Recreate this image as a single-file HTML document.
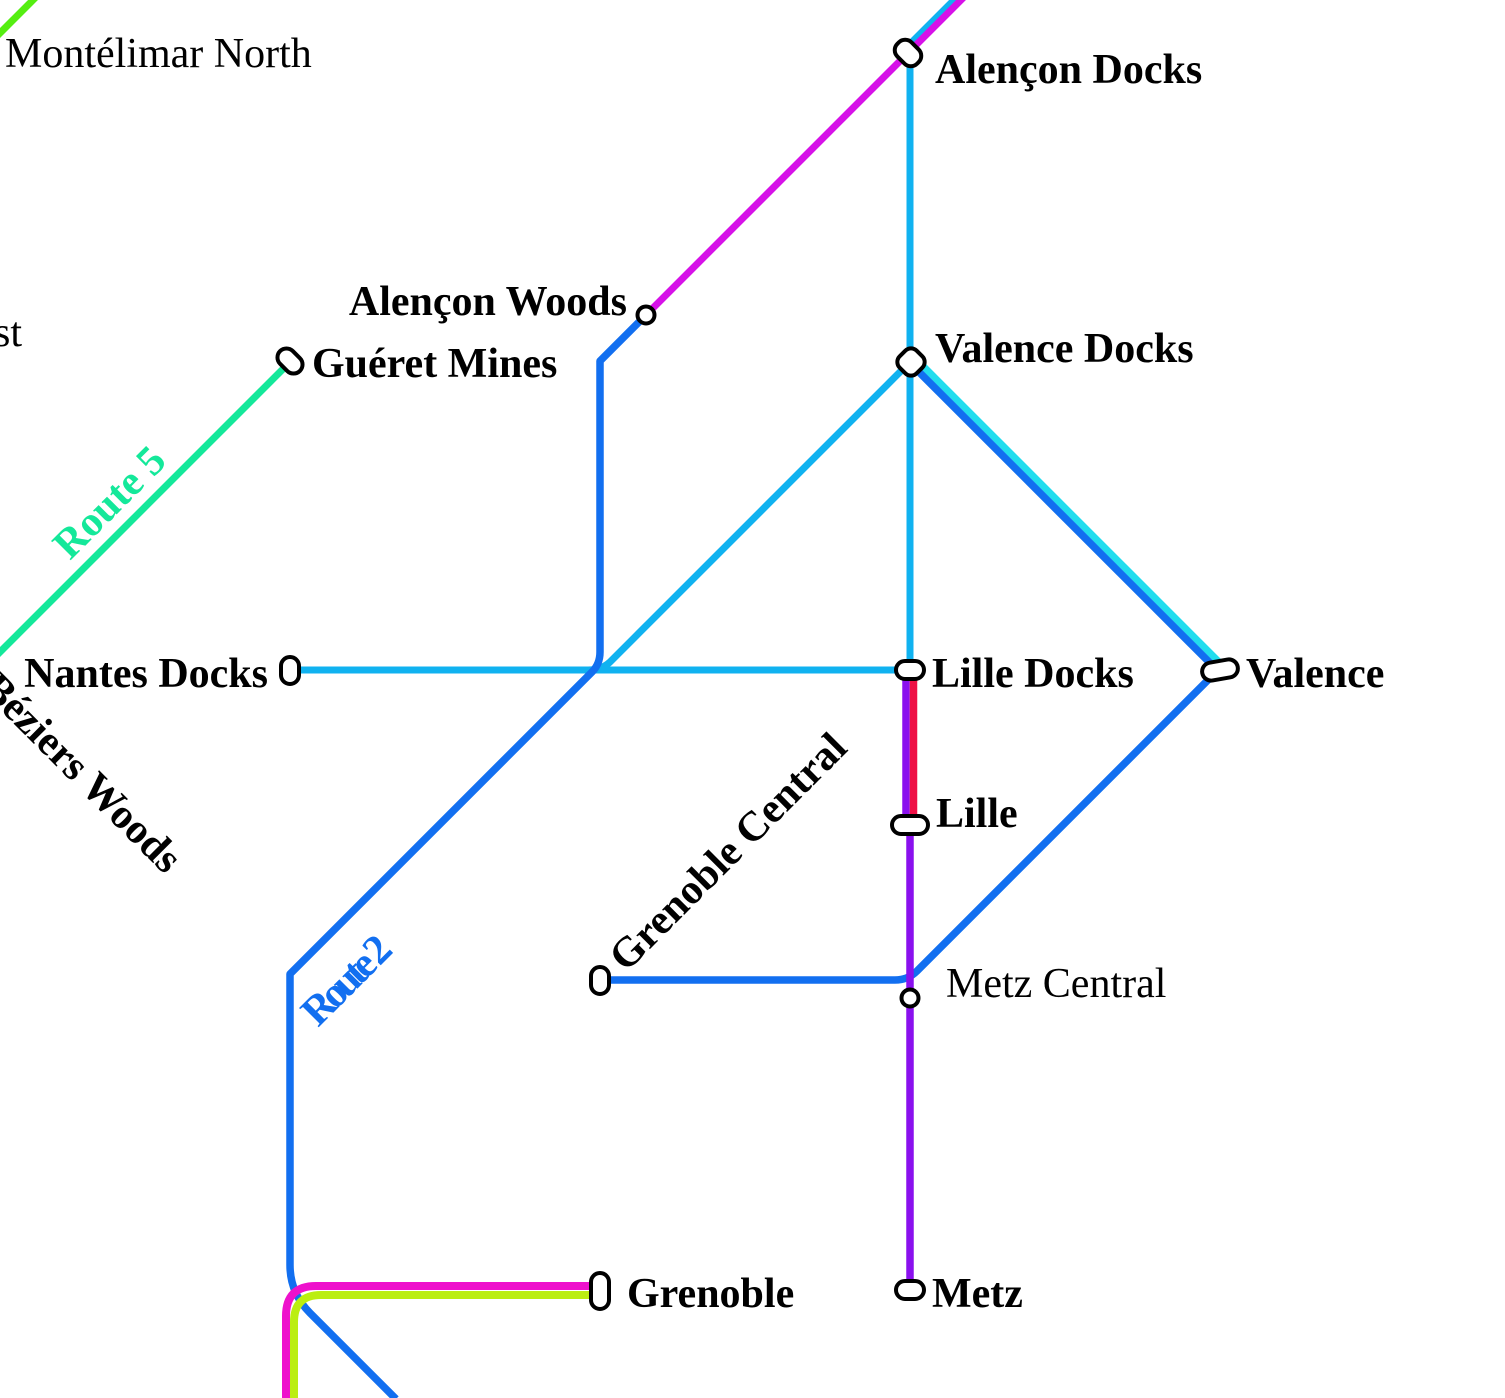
<!DOCTYPE html>
<html><head><meta charset="utf-8"><style>
html,body{margin:0;padding:0;background:#fff;}
svg{display:block;}
text{font-family:"Liberation Serif",serif;font-size:42px;fill:#000;}
.b{font-weight:bold;}
</style></head><body>
<svg width="1505" height="1398" viewBox="0 0 1505 1398" xmlns="http://www.w3.org/2000/svg">
<g fill="none" stroke-linejoin="round">
<!-- top-left green -->
<path d="M-5,38 L38,-5" stroke="#55ee11" stroke-width="7"/>
<!-- route 5 -->
<path d="M290,362 L-10,662" stroke="#14e89a" stroke-width="7"/>
<!-- light blue top segment & vertical -->
<path d="M955,-1 L910,44 V670" stroke="#10b2f0" stroke-width="7"/>
<!-- magenta top -->
<path d="M646,315 L976,-15" stroke="#d611e8" stroke-width="7"/>
<!-- light blue horizontal & diagonal -->
<path d="M290,670 H910" stroke="#10b2f0" stroke-width="7"/>
<path d="M910,362 L612,660 Q603,670 588,670" stroke="#10b2f0" stroke-width="7"/>
<!-- route 2 -->
<path d="M646,315 L600,361 V652 Q600,664 592,672 L290,974 V1265 Q290,1293 310,1313 L396,1399" stroke="#126ff0" stroke-width="7.5"/>
<!-- blue Grenoble Central - Valence -->
<path d="M600,980 H895 Q908,980 917,971 L1214,674" stroke="#126ff0" stroke-width="7.5"/>
<!-- cyan and blue Valence Docks - Valence -->
<path d="M918,361 L1220,663" stroke="#22ddee" stroke-width="7"/>
<path d="M912,365 L1214,667" stroke="#126ff0" stroke-width="7.5"/>
<!-- purple & red -->
<path d="M906,672 V822 L910,828 V1290" stroke="#8a10ee" stroke-width="7.5"/>
<path d="M913.5,672 V825" stroke="#ee1045" stroke-width="7.5"/>
<!-- bottom magenta & yellow-green -->
<path d="M286,1400 V1316 Q286,1286 316,1286 H600" stroke="#ee11cc" stroke-width="8"/>
<path d="M294,1400 V1322 Q294,1295 321,1295 H600" stroke="#bbee11" stroke-width="8"/>
</g>
<!-- stations -->
<g fill="#fff" stroke="#000" stroke-width="4">
<rect x="-14" y="-10" width="28" height="20" rx="9" transform="translate(908,53) rotate(45)"/>
<circle cx="646" cy="315" r="8.5"/>
<rect x="-14" y="-9" width="28" height="18" rx="9" transform="translate(290,361) rotate(45)"/>
<rect x="-12" y="-12" width="24" height="24" rx="8" transform="translate(911,362) rotate(45)"/>
<rect x="281" y="657" width="18" height="27" rx="9"/>
<rect x="896" y="661" width="28" height="18" rx="9"/>
<rect x="892" y="816" width="36" height="18" rx="9"/>
<rect x="-18" y="-9" width="36" height="18" rx="9" transform="translate(1220,670) rotate(-10)"/>
<circle cx="910" cy="998" r="8.5"/>
<rect x="591" y="967" width="18" height="27" rx="9"/>
<rect x="591" y="1273" width="18" height="36" rx="9"/>
<rect x="896" y="1281" width="28" height="18" rx="9"/>
</g>
<!-- labels -->
<text x="5" y="67">Montélimar North</text>
<text x="-6" y="346">st</text>
<text class="b" x="935" y="83">Alençon Docks</text>
<text class="b" x="627" y="315" text-anchor="end">Alençon Woods</text>
<text class="b" x="312" y="377">Guéret Mines</text>
<text class="b" x="935" y="362">Valence Docks</text>
<text class="b" x="268" y="687" text-anchor="end">Nantes Docks</text>
<text class="b" x="932" y="687">Lille Docks</text>
<text class="b" x="1246" y="687">Valence</text>
<text class="b" x="936" y="827">Lille</text>
<text x="946" y="997">Metz Central</text>
<text class="b" x="627" y="1307">Grenoble</text>
<text class="b" x="932" y="1307">Metz</text>
<text class="b" transform="translate(626,973) rotate(-45)">Grenoble Central</text>
<text class="b" transform="translate(-20,690) rotate(45)">Béziers Woods</text>
<text class="b" transform="translate(70,561) rotate(-45)" style="fill:#14e89a">Route 5</text>
<text class="b" transform="translate(318,1028) rotate(-45)" style="fill:#126ff0;font-size:42px" textLength="108" lengthAdjust="spacing">Route 2</text>
</svg>
</body></html>
